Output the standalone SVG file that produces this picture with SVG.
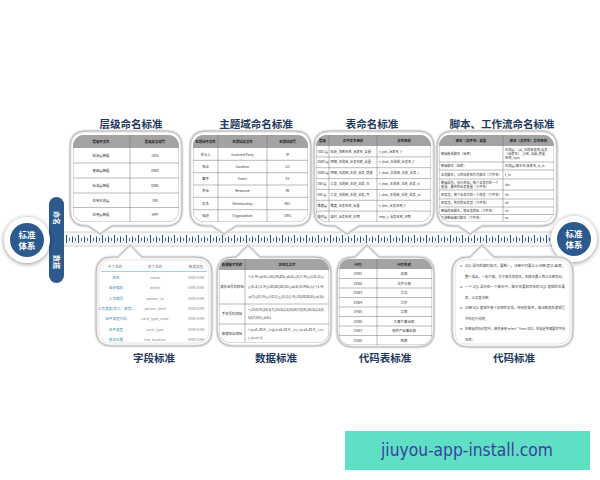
<svg xmlns="http://www.w3.org/2000/svg" width="600" height="480" viewBox="0 0 600 480">
<style>
.t{font-family:"Noto Sans CJK SC","Noto Sans",sans-serif}
.title{font-family:"Noto Sans CJK SC",sans-serif;font-size:10.5px;font-weight:bold;fill:#233a5e;text-anchor:middle}
.pan-o{fill:#fff;stroke:#e4e4e4;stroke-width:3}
.pan-i{fill:none;stroke:#aeaeae;stroke-width:0.8}
.tb{fill:#fff;stroke:#8a8a8a;stroke-width:0.6}
.hd{fill:#a3a3a3}
.ln{stroke:#6a6a6a;stroke-width:0.45}
.c{font-family:"Noto Sans CJK SC","Liberation Sans",sans-serif;font-size:3.4px;fill:#333;text-anchor:middle}
.l{font-family:"Noto Sans CJK SC","Liberation Sans",sans-serif;font-size:3.2px;fill:#333}
.hc{font-family:"Noto Sans CJK SC",sans-serif;font-size:3.4px;fill:#222;text-anchor:middle;font-weight:bold}
.f{font-family:"Noto Sans CJK SC","Liberation Sans",sans-serif;font-size:3.6px;text-anchor:middle}
.p{font-family:"Noto Sans CJK SC","Liberation Sans",sans-serif;font-size:3.3px;fill:#444}
</style>
<defs>
<pattern id="ruler" patternUnits="userSpaceOnUse" x="66" y="232" width="12" height="14">
<rect x="0" y="3" width="1" height="8" fill="#2b4c7e"/>
<rect x="3" y="6" width="0.8" height="3" fill="#2b4c7e"/>
<rect x="6" y="4.5" width="1" height="6" fill="#2b4c7e"/>
<rect x="9" y="6" width="0.8" height="3" fill="#2b4c7e"/>
</pattern>
<filter id="sh" x="-50%" y="-50%" width="200%" height="200%">
<feGaussianBlur in="SourceAlpha" stdDeviation="2.5"/>
<feOffset dx="0" dy="1" result="b"/>
<feComponentTransfer><feFuncA type="linear" slope="0.45"/></feComponentTransfer>
<feMerge><feMergeNode/><feMergeNode in="SourceGraphic"/></feMerge>
</filter>
<clipPath id="c1"><rect x="73" y="135" width="106" height="87" rx="11"/></clipPath>
<clipPath id="c2"><rect x="193" y="135" width="115" height="87" rx="11"/></clipPath>
<clipPath id="c3"><rect x="316" y="135" width="115" height="87" rx="11"/></clipPath>
<clipPath id="c4"><rect x="439" y="135" width="115" height="87" rx="11"/></clipPath>
<clipPath id="c6"><rect x="219" y="259" width="110" height="84" rx="11"/></clipPath>
<clipPath id="c7"><rect x="339" y="259" width="93" height="86" rx="11"/></clipPath>
</defs>

<rect width="600" height="480" fill="#fff"/>

<!-- timeline band -->
<g id="timeline">
<rect x="40" y="232" width="530" height="14" fill="#f4f6f8"/>
<line x1="40" y1="232" x2="570" y2="232" stroke="#c9c9c9" stroke-width="0.8"/>
<line x1="40" y1="246" x2="570" y2="246" stroke="#c9c9c9" stroke-width="0.8"/>
<rect x="66" y="232" width="488" height="14" fill="url(#ruler)"/>
</g>

<!-- side bar -->
<g id="sidebar">
<rect x="49" y="197" width="15" height="86" rx="7.5" fill="#2d5a8e"/>
<text class="t" transform="translate(53.5,218) rotate(90)" font-size="7" fill="#fff" text-anchor="middle" font-weight="bold">命名</text>
<text class="t" transform="translate(53.5,262) rotate(90)" font-size="7" fill="#fff" text-anchor="middle" font-weight="bold">数据</text>
</g>

<g id="circle-left">
<circle cx="27" cy="240" r="23" fill="#fff" filter="url(#sh)"/>
<circle cx="27" cy="240" r="17" fill="#2d5a8e"/>
<text class="t" x="27" y="238" font-size="8.5" fill="#fff" text-anchor="middle" font-weight="bold">标准</text>
<text class="t" x="27" y="248.5" font-size="8.5" fill="#fff" text-anchor="middle" font-weight="bold">体系</text>
</g>
<g id="circle-right">
<circle cx="574" cy="239" r="23" fill="#fff" filter="url(#sh)"/>
<circle cx="574" cy="239" r="17" fill="#2d5a8e"/>
<text class="t" x="574" y="237" font-size="8.5" fill="#fff" text-anchor="middle" font-weight="bold">标准</text>
<text class="t" x="574" y="247.5" font-size="8.5" fill="#fff" text-anchor="middle" font-weight="bold">体系</text>
</g>

<!-- Panel 1 -->
<g id="panel-level">
<text class="title" x="131" y="128">层级命名标准</text>
<path class="pan-o" d="M86,131 H166 Q182,131 182,147 V210 Q182,226 166,226 H112 L100,234 L88,226 H86 Q70,226 70,210 V147 Q70,131 86,131 Z"/>
<path class="pan-i" d="M86,131 H166 Q182,131 182,147 V210 Q182,226 166,226 H112 L100,234 L88,226 H86 Q70,226 70,210 V147 Q70,131 86,131 Z"/>
<g clip-path="url(#c1)">
<rect class="tb" x="73" y="135" width="106" height="87" rx="11"/>
<rect class="hd" x="73" y="135" width="106" height="13"/>
<line class="ln" x1="130" y1="135" x2="130" y2="222"/>
<line class="ln" x1="73" y1="163" x2="179" y2="163"/>
<line class="ln" x1="73" y1="178" x2="179" y2="178"/>
<line class="ln" x1="73" y1="193" x2="179" y2="193"/>
<line class="ln" x1="73" y1="207.5" x2="179" y2="207.5"/>
</g>
<text class="hc" x="101" y="143">层级中文名</text><text class="hc" x="155" y="143">层级英文缩写</text>
<text class="c" x="101" y="157">贴源层数据</text><text class="c" x="155" y="157">ODS</text>
<text class="c" x="101" y="172">基础层数据</text><text class="c" x="155" y="172">DWD</text>
<text class="c" x="101" y="187">标准层数据</text><text class="c" x="155" y="187">DWS</text>
<text class="c" x="101" y="201.5">应用主题层</text><text class="c" x="155" y="201.5">DM</text>
<text class="c" x="101" y="216">应用层数据</text><text class="c" x="155" y="216">APP</text>
</g>

<!-- Panel 2 -->
<g id="panel-subject">
<text class="title" x="256" y="128">主题域命名标准</text>
<path class="pan-o" d="M206,131 H295 Q311,131 311,147 V210 Q311,226 295,226 H236 L224,234 L212,226 H206 Q190,226 190,210 V147 Q190,131 206,131 Z"/>
<path class="pan-i" d="M206,131 H295 Q311,131 311,147 V210 Q311,226 295,226 H236 L224,234 L212,226 H206 Q190,226 190,210 V147 Q190,131 206,131 Z"/>
<g clip-path="url(#c2)">
<rect class="tb" x="193" y="135" width="115" height="87" rx="11"/>
<rect class="hd" x="193" y="135" width="115" height="13"/>
<line class="ln" x1="218" y1="135" x2="218" y2="222"/>
<line class="ln" x1="267" y1="135" x2="267" y2="222"/>
<line class="ln" x1="193" y1="160.3" x2="308" y2="160.3"/>
<line class="ln" x1="193" y1="172.7" x2="308" y2="172.7"/>
<line class="ln" x1="193" y1="185" x2="308" y2="185"/>
<line class="ln" x1="193" y1="197.3" x2="308" y2="197.3"/>
<line class="ln" x1="193" y1="209.7" x2="308" y2="209.7"/>
</g>
<text class="hc" x="205.5" y="143" font-size="3">主题域中文名</text><text class="hc" x="242.5" y="143">主题域英文名</text><text class="hc" x="287.5" y="143">主题域缩写</text>
<text class="c" x="205.5" y="155.5">参与人</text><text class="c" x="242.5" y="155.5">Involved Party</text><text class="c" x="287.5" y="155.5">IP</text>
<text class="c" x="205.5" y="167.8">地点</text><text class="c" x="242.5" y="167.8">Location</text><text class="c" x="287.5" y="167.8">LO</text>
<text class="c" x="205.5" y="180.1">事件</text><text class="c" x="242.5" y="180.1">Event</text><text class="c" x="287.5" y="180.1">EV</text>
<text class="c" x="205.5" y="192.4">资源</text><text class="c" x="242.5" y="192.4">Resource</text><text class="c" x="287.5" y="192.4">RE</text>
<text class="c" x="205.5" y="204.7">关系</text><text class="c" x="242.5" y="204.7">Relationship</text><text class="c" x="287.5" y="204.7">REL</text>
<text class="c" x="205.5" y="217">组织</text><text class="c" x="242.5" y="217">Organization</text><text class="c" x="287.5" y="217">ORG</text>
</g>

<!-- Panel 3 -->
<g id="panel-table">
<text class="title" x="372" y="128">表命名标准</text>
<path class="pan-o" d="M330,131 H418 Q434,131 434,147 V210 Q434,226 418,226 H359 L347,234 L335,226 H330 Q314,226 314,210 V147 Q314,131 330,131 Z"/>
<path class="pan-i" d="M330,131 H418 Q434,131 434,147 V210 Q434,226 418,226 H359 L347,234 L335,226 H330 Q314,226 314,210 V147 Q314,131 330,131 Z"/>
<g clip-path="url(#c3)">
<rect class="tb" x="316" y="135" width="115" height="87" rx="11"/>
<rect class="hd" x="316" y="135" width="115" height="11"/>
<line class="ln" x1="329" y1="135" x2="329" y2="222"/>
<line class="ln" x1="377" y1="135" x2="377" y2="222"/>
<line class="ln" x1="316" y1="156.9" x2="431" y2="156.9"/>
<line class="ln" x1="316" y1="167.7" x2="431" y2="167.7"/>
<line class="ln" x1="316" y1="178.6" x2="431" y2="178.6"/>
<line class="ln" x1="316" y1="189.4" x2="431" y2="189.4"/>
<line class="ln" x1="316" y1="200.3" x2="431" y2="200.3"/>
<line class="ln" x1="316" y1="211.1" x2="431" y2="211.1"/>
</g>
<text class="hc" x="322.5" y="142">层级</text><text class="hc" x="353" y="142">表中文名规范</text><text class="hc" x="404" y="142">表名规范</text>
<g class="l" font-size="2.5">
<text x="317.5" y="152.5">ODS 层</text><text x="330.5" y="152.5">贴源_系统名称_源表名_全量</text><text x="379" y="152.5">t_ods_源表名_f</text>
<text x="317.5" y="163.3">DWD 层</text><text x="330.5" y="163.3">明细_主题域_业务名称_全量</text><text x="379" y="163.3">t_dwd_主题域_业务名_f</text>
<text x="317.5" y="174.2">DWD 层</text><text x="330.5" y="174.2">明细_主题域_主题_业务_增量</text><text x="379" y="174.2">t_dwd_主题域_主题_业务_i</text>
<text x="317.5" y="185">DW 层</text><text x="330.5" y="185">汇总_主题域_主题_业务_日</text><text x="379" y="185">t_dws_主题域_主题_业务_d</text>
<text x="317.5" y="195.9">DW 层</text><text x="330.5" y="195.9">汇总_主题域_主题_业务_月</text><text x="379" y="195.9">t_dws_主题域_主题_业务_m</text>
<text x="317.5" y="206.7">维度层</text><text x="330.5" y="206.7">维度_业务名称_全量</text><text x="379" y="206.7">t_dim_业务名称_f</text>
<text x="317.5" y="217.6">临时层</text><text x="330.5" y="217.6">临时_业务名称_日期</text><text x="379" y="217.6">tmp_t_业务名称_日期</text>
</g>
</g>

<!-- Panel 4 -->
<g id="panel-script">
<text class="title" x="502" y="128">脚本、工作流命名标准</text>
<path class="pan-o" d="M453,131 H541 Q557,131 557,147 V210 Q557,226 541,226 H482 L470,234 L458,226 H453 Q437,226 437,210 V147 Q437,131 453,131 Z"/>
<path class="pan-i" d="M453,131 H541 Q557,131 557,147 V210 Q557,226 541,226 H482 L470,234 L458,226 H453 Q437,226 437,210 V147 Q437,131 453,131 Z"/>
<g clip-path="url(#c4)">
<rect class="tb" x="439" y="135" width="115" height="87" rx="11"/>
<rect class="hd" x="439" y="135" width="115" height="11"/>
<line class="ln" x1="503" y1="135" x2="503" y2="222"/>
<line class="ln" x1="439" y1="162" x2="554" y2="162"/>
<line class="ln" x1="439" y1="170" x2="554" y2="170"/>
<line class="ln" x1="439" y1="179" x2="554" y2="179"/>
<line class="ln" x1="439" y1="190" x2="554" y2="190"/>
<line class="ln" x1="439" y1="199" x2="554" y2="199"/>
<line class="ln" x1="439" y1="207" x2="554" y2="207"/>
<line class="ln" x1="439" y1="214.5" x2="554" y2="214.5"/>
</g>
<text class="hc" x="471" y="142" font-size="3">脚本（文件名）类型</text><text class="hc" x="528.5" y="142" font-size="3">脚本（文件名）命名规范</text>
<g class="l" font-size="2.4">
<text x="441" y="155">数据集成脚本（源库）</text>
<text x="505" y="151">主题层：t/d_主题域名称/业务</text><text x="505" y="155">（源表名）_分区_全量/增量</text><text x="505" y="159">名称_sync</text>
<text x="441" y="167">数据脚本（源库）</text><text x="505" y="167">主题层/脚本名/源表名_b_ts</text>
<text x="441" y="175.5">业务脚本，以目标表名作为脚本（文件名）</text><text x="505" y="175.5">t_ts</text>
<text x="441" y="183.5">数据操作，执行目标，每个业务对应一个</text><text x="441" y="187.5">变量，最终的业务变量（文件名）</text><text x="505" y="185.5">tbs</text>
<text x="441" y="195.5">任务流，每个业务对应一个任务（文件名）</text><text x="505" y="195.5">tfs</text>
<text x="441" y="204">任务流，所有的业务流（文件名）</text><text x="505" y="204">wf</text>
<text x="441" y="211.7">数据校验脚本，按业务校验（文件名）</text><text x="505" y="211.7">ck</text>
<text x="441" y="219">下游数据接口脚本（文件名）</text><text x="505" y="219">ex</text>
</g>
</g>

<!-- Panel 5 -->
<g id="panel-field">
<path class="pan-o" d="M112,257 H118 L130,245 L142,257 H196 Q212,257 212,273 V330 Q212,346 196,346 H112 Q96,346 96,330 V273 Q96,257 112,257 Z"/>
<path class="pan-i" d="M112,257 H118 L130,245 L142,257 H196 Q212,257 212,273 V330 Q212,346 196,346 H112 Q96,346 96,330 V273 Q96,257 112,257 Z"/>
<rect x="99" y="260" width="110" height="83" rx="11" fill="none" stroke="#c8c8c8" stroke-width="0.5"/>
<text class="f" x="115" y="268" fill="#777">中文名称</text><text class="f" x="155" y="268" fill="#777">英文名称</text><text class="f" x="196" y="268" fill="#777">数据类型</text>
<line x1="101" y1="271.5" x2="207" y2="271.5" stroke="#7fd0cf" stroke-width="0.8"/>
<text class="f" x="116" y="279" fill="#2f8fb0">姓名</text>
<text class="f" x="116" y="289.3" fill="#2f8fb0">组织编码</text>
<text class="f" x="116" y="299.6" fill="#2f8fb0">人员编号</text>
<text class="f" x="116" y="309.9" fill="#2f8fb0" font-size="3.2">人员类型(学工、餐饮...</text>
<text class="f" x="116" y="320.2" fill="#2f8fb0">证件类型代码</text>
<text class="f" x="116" y="330.5" fill="#2f8fb0">证件类型</text>
<text class="f" x="116" y="340.8" fill="#2f8fb0">居住位置</text>
<text class="f" x="155" y="279" fill="#888">name</text>
<text class="f" x="155" y="289.3" fill="#888">dwbm</text>
<text class="f" x="155" y="299.6" fill="#888">person_id</text>
<text class="f" x="155" y="309.9" fill="#888">person_kind</text>
<text class="f" x="155" y="320.2" fill="#888">card_type_code</text>
<text class="f" x="155" y="330.5" fill="#888">card_type</text>
<text class="f" x="155" y="340.8" fill="#888">live_location</text>
<text class="f" x="196" y="279" fill="#888">VARCHAR</text>
<text class="f" x="196" y="289.3" fill="#888">VARCHAR</text>
<text class="f" x="196" y="299.6" fill="#888">VARCHAR</text>
<text class="f" x="196" y="309.9" fill="#888">VARCHAR</text>
<text class="f" x="196" y="320.2" fill="#888">VARCHAR</text>
<text class="f" x="196" y="330.5" fill="#888">VARCHAR</text>
<text class="f" x="196" y="340.8" fill="#888">VARCHAR</text>
<text class="title" x="154" y="362">字段标准</text>
</g>

<!-- Panel 6 -->
<g id="panel-data">
<path class="pan-o" d="M233,257 H236 L248,245 L260,257 H315 Q331,257 331,273 V330 Q331,346 315,346 H233 Q217,346 217,330 V273 Q217,257 233,257 Z"/>
<path class="pan-i" d="M233,257 H236 L248,245 L260,257 H315 Q331,257 331,273 V330 Q331,346 315,346 H233 Q217,346 217,330 V273 Q217,257 233,257 Z"/>
<g clip-path="url(#c6)">
<rect class="tb" x="219" y="259" width="110" height="84" rx="11"/>
<rect class="hd" x="219" y="259" width="110" height="11"/>
<line class="ln" x1="245" y1="259" x2="245" y2="343"/>
<line class="ln" x1="219" y1="304" x2="329" y2="304"/>
<line class="ln" x1="219" y1="324" x2="329" y2="324"/>
</g>
<text class="hc" x="232" y="266" font-size="3">数据格式名称</text><text class="hc" x="287" y="266">正则表达式</text>
<text class="c" x="232" y="288" font-size="3">身份证号码校验</text>
<text class="c" x="232" y="315" font-size="3">手机号码校验</text>
<text class="c" x="232" y="334.5" font-size="3">邮箱地址校验</text>
<g class="l" font-size="2.8">
<text x="248" y="278" textLength="76" lengthAdjust="spacingAndGlyphs">^[1-9]\d{5}(18|19|20)\d{2}((0[1-9])|(1[0-2]))</text>
<text x="248" y="288" textLength="76" lengthAdjust="spacingAndGlyphs">(([0-2][1-9])|10|20|30|31)\d{3}[0-9Xx]$|^[1-9]</text>
<text x="248" y="298" textLength="76" lengthAdjust="spacingAndGlyphs">\d{7}((0[1-9])|(1[0-2]))(([0-2][1-9])|10|20|30|31)\d{3}$</text>
<text x="248" y="311" textLength="76" lengthAdjust="spacingAndGlyphs">^(13[0-9]|14[5|7]|15[0|1|2|3|5|6|7|8|9]|18[0|1|2|3|</text>
<text x="248" y="319">5|6|7|8|9])\d{8}$</text>
<text x="248" y="331" textLength="76" lengthAdjust="spacingAndGlyphs">^[a-zA-Z0-9_-]+@[a-zA-Z0-9_-]+(\.[a-zA-Z0-9_-]+)+</text>
<text x="248" y="339">(\.[a-z]+)$</text>
</g>
<text class="title" x="276" y="362">数据标准</text>
</g>

<!-- Panel 7 -->
<g id="panel-codetable">
<path class="pan-o" d="M353,257 H355 L367,245 L379,257 H418 Q434,257 434,273 V331 Q434,347 418,347 H353 Q337,347 337,331 V273 Q337,257 353,257 Z"/>
<path class="pan-i" d="M353,257 H355 L367,245 L379,257 H418 Q434,257 434,273 V331 Q434,347 418,347 H353 Q337,347 337,331 V273 Q337,257 353,257 Z"/>
<g clip-path="url(#c7)">
<rect class="tb" x="339" y="259" width="93" height="86" rx="11"/>
<rect class="hd" x="339" y="259" width="93" height="10"/>
<line class="ln" x1="377" y1="259" x2="377" y2="345"/>
<line class="ln" x1="339" y1="278.5" x2="432" y2="278.5"/>
<line class="ln" x1="339" y1="288" x2="432" y2="288"/>
<line class="ln" x1="339" y1="297.5" x2="432" y2="297.5"/>
<line class="ln" x1="339" y1="307" x2="432" y2="307"/>
<line class="ln" x1="339" y1="316.5" x2="432" y2="316.5"/>
<line class="ln" x1="339" y1="326" x2="432" y2="326"/>
<line class="ln" x1="339" y1="335.5" x2="432" y2="335.5"/>
</g>
<text class="hc" x="358" y="265.5">代码</text><text class="hc" x="404" y="265.5">代码名称</text>
<text class="c" x="358" y="275">ZH01</text><text class="c" x="404" y="275">总部</text>
<text class="c" x="358" y="284.5">ZH02</text><text class="c" x="404" y="284.5">北京分部</text>
<text class="c" x="358" y="294">ZH03</text><text class="c" x="404" y="294">华北</text>
<text class="c" x="358" y="303.5">ZH04</text><text class="c" x="404" y="303.5">华东</text>
<text class="c" x="358" y="313">ZH05</text><text class="c" x="404" y="313">华南</text>
<text class="c" x="358" y="322.5">ZH06</text><text class="c" x="404" y="322.5">大客户事业部</text>
<text class="c" x="358" y="332">ZH07</text><text class="c" x="404" y="332">软件产品事业部</text>
<text class="c" x="358" y="341.5">ZH08</text><text class="c" x="404" y="341.5">西南</text>
<text class="title" x="385" y="362">代码表标准</text>
</g>

<!-- Panel 8 -->
<g id="panel-code">
<path class="pan-o" d="M468,257 H470 L482,245 L494,257 H557 Q573,257 573,273 V331 Q573,347 557,347 H468 Q452,347 452,331 V273 Q452,257 468,257 Z"/>
<path class="pan-i" d="M468,257 H470 L482,245 L494,257 H557 Q573,257 573,273 V331 Q573,347 557,347 H468 Q452,347 452,331 V273 Q452,257 468,257 Z"/>
<rect x="455" y="260" width="115" height="84" rx="11" fill="none" stroke="#c8c8c8" stroke-width="0.5"/>
<g class="p">
<text x="460" y="267">➤</text><text x="465" y="267" textLength="100" lengthAdjust="spacingAndGlyphs">SQL 语句的编码格式，要统一，注释中间要以上注释(建议)末尾；</text>
<text x="465" y="277.5" textLength="100" lengthAdjust="spacingAndGlyphs">整个成品，一定不能，对于每次的修改，在脚本最上面以注释写出；</text>
<text x="460" y="288">➤</text><text x="465" y="288" textLength="100" lengthAdjust="spacingAndGlyphs">一个 SQL 语句在一个脚本中，脚本名要和目标的 SQL 逻辑的主要</text>
<text x="465" y="298.5">表、以及其注释；</text>
<text x="460" y="309">➤</text><text x="465" y="309" textLength="100" lengthAdjust="spacingAndGlyphs">注释 SQL 逻辑中每个关联的关系，特别的条件，请注释其在逻辑里</text>
<text x="465" y="319.5">中的运行说明；</text>
<text x="460" y="330">➤</text><text x="465" y="330" textLength="100" lengthAdjust="spacingAndGlyphs">在数据处理过程中，避免使用 select * from XXX，应指定所需要的字段</text>
<text x="465" y="340.5">名称；</text>
</g>
<text class="title" x="514" y="362">代码标准</text>
</g>

<!-- watermark -->
<g id="watermark">
<rect x="345" y="431" width="245" height="39" fill="#5fdfc4"/>
<text x="467" y="456" font-family="'DejaVu Sans','Liberation Sans',sans-serif" font-size="17" fill="#3b40a0" text-anchor="middle" textLength="172" lengthAdjust="spacingAndGlyphs">jiuyou-app-install.com</text>
</g>
</svg>
